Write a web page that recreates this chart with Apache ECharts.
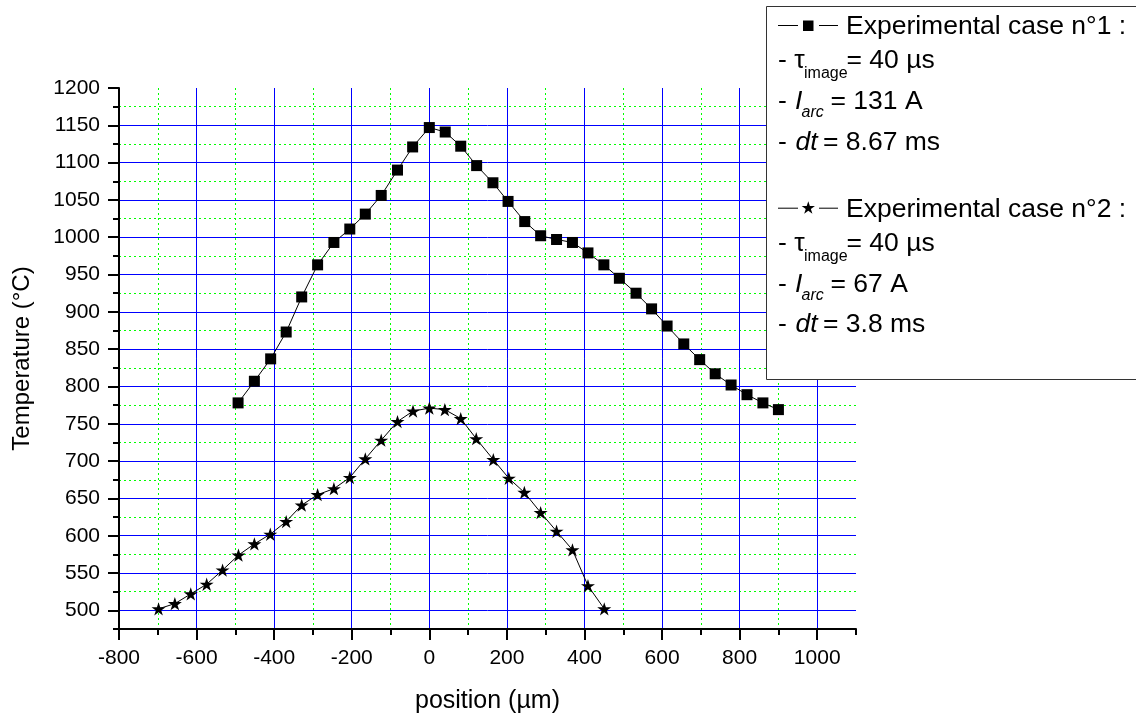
<!DOCTYPE html>
<html><head><meta charset="utf-8">
<script src="https://cdn.jsdelivr.net/npm/echarts@6/dist/echarts.min.js"></script>
<style>html,body{margin:0;padding:0;background:#fff}#c{width:1136px;height:713px}</style>
</head><body><div id="c"></div><script>
// ---- data ----
const positions1 = [-493,-451,-409,-369,-329,-288,-246,-205,-165,-124,-82,-43,0,41,81,122,164,203,246,287,328,369,409,450,490,533,573,613,656,697,737,778,819,860,900];
const temps1 = [778,807,837,873,920,963,993,1011,1031,1056,1090,1121,1147,1141,1122,1096,1073,1048,1021,1002,997,993,979,963,945,925,904,881,857,836,817,802,789,778,769];
const positions2 = [-698,-656,-615,-574,-533,-492,-451,-410,-369,-329,-288,-246,-205,-165,-124,-82,-42,0,40,81,121,165,205,245,287,328,369,409,451];
const temps2 = [502,509,522,535,554,574,589,602,619,641,655,663,678,703,728,753,767,771,769,757,730,702,677,658,631,606,581,533,502];
const yLabelValues = [500,550,600,650,700,750,800,850,900,950,1000,1050,1100,1150,1200];
const seriesNames = ['Experimental case n°1 :', 'Experimental case n°2 :'];

const FONT = '"Liberation Sans", Arial, Helvetica, sans-serif';
const STAR = 'path://M50 0 L61.23 34.55 L97.55 34.55 L68.17 55.9 L79.39 90.45 L50 69.1 L20.61 90.45 L31.83 55.9 L2.45 34.55 L38.77 34.55 Z';

const chart = echarts.init(document.getElementById('c'), null, {renderer: 'canvas'});

const blue = '#0000ff', green = '#00ff00', clear = 'rgba(0,0,0,0)';
const GRID = {left: 119, top: 88, width: 737, height: 541};
const plain = v => String(v);

function txt(x, baseline, text, size, italic) {
  return {
    type: 'text', z: 110, x: x, y: baseline - 0.25 * size,
    style: {
      text: text, font: (italic ? 'italic ' : '') + size + 'px ' + FONT,
      fill: '#000', align: 'left', verticalAlign: 'middle',
      textAlign: 'left', textVerticalAlign: 'middle'
    }
  };
}
function hline(x1, x2, y) {
  return {type: 'line', z: 110, shape: {x1: x1, y1: y, x2: x2, y2: y}, style: {stroke: '#000', lineWidth: 1}};
}
function starPoints(cx, cy, R) {
  const pts = [];
  for (let k = 0; k < 10; k++) {
    const r = k % 2 === 0 ? R : R * 0.382;
    const a = -Math.PI / 2 + k * Math.PI / 5;
    pts.push([cx + r * Math.cos(a), cy + r * Math.sin(a)]);
  }
  return pts;
}
const L = 26.5, S = 16, D = 182.7;
function block(dy, name, icon, current, dt) {
  return [
    hline(778, 798, 25.5 + dy), hline(819, 838, 25.5 + dy),
    icon,
    txt(846, 33.5 + dy, name, L, false),
    txt(778, 67.5 + dy, '- τ', L, false),
    txt(804, 77.5 + dy, 'image', S, false),
    txt(846.5, 67.5 + dy, '= 40 µs', L, false),
    txt(778, 108.5 + dy, '-', L, false),
    txt(795, 108.5 + dy, 'I', L, true),
    txt(801.5, 117 + dy, 'arc', S, true),
    txt(830.5, 108.5 + dy, current, L, false),
    txt(778, 149 + dy, '-', L, false),
    txt(795.5, 149 + dy, 'dt', L, true),
    txt(823, 149 + dy, dt, L, false)
  ];
}
const legendGraphics = [
  {type: 'rect', z: 100, shape: {x: 766.5, y: 6.5, width: 420, height: 373}, style: {fill: '#fff', stroke: '#333', lineWidth: 1}}
].concat(
  block(0, seriesNames[0], {type: 'rect', z: 111, shape: {x: 803, y: 20.5, width: 10.5, height: 10.5}, style: {fill: '#000'}}, '= 131 A', '= 8.67 ms'),
  block(D, seriesNames[1], {type: 'polygon', z: 111, shape: {points: starPoints(808.3, 25.5 + D, 7)}, style: {fill: '#000'}}, '= 67 A', '= 3.8 ms')
);

const hiddenAxisParts = {
  axisLine: {show: false, onZero: false},
  axisLabel: {show: false}
};

const option = {
  backgroundColor: '#fff',
  animation: false,
  grid: Object.assign({containLabel: false, outerBoundsMode: 'none'}, GRID),
  xAxis: [
    {
      type: 'value', position: 'bottom', min: -800, max: 1100, interval: 200,
      name: 'position (µm)', nameLocation: 'middle', nameGap: 60,
      nameTextStyle: {fontSize: 25, fontFamily: FONT, color: '#000'},
      axisLine: {show: true, onZero: false, lineStyle: {color: '#000', width: 2}},
      axisTick: {show: true, length: 11, lineStyle: {color: '#000', width: 2}},
      axisLabel: {fontSize: 21, fontFamily: FONT, color: '#000', margin: 19, formatter: plain},
      splitLine: {show: true, showMinLine: false, showMaxLine: false, lineStyle: {color: blue, width: 1, type: 'solid'}},
      z: 5
    },
    Object.assign({
      type: 'value', position: 'bottom', min: -800, max: 1100, interval: 100,
      axisTick: {show: true, length: 6, lineStyle: {color: '#000', width: 2}},
      splitLine: {show: true, showMinLine: false, showMaxLine: false, lineStyle: {color: green, width: 1, type: [2, 3]}},
      z: 3
    }, hiddenAxisParts)
  ],
  yAxis: [
    // minor grid (every 25) : green dotted + short ticks
    Object.assign({
      type: 'value', position: 'left', min: 475, max: 1200, interval: 25,
      axisTick: {show: true, length: 6, lineStyle: {color: '#000', width: 2}},
      splitLine: {show: true, showMinLine: false, showMaxLine: false, lineStyle: {color: green, width: 1, type: [2, 3]}},
      z: 3
    }, hiddenAxisParts),
    // major grid (every 50, starting at 500) : blue solid
    Object.assign({
      type: 'value', position: 'left', min: 475, max: 1200, interval: 25,
      axisTick: {show: false},
      splitLine: {show: true, showMinLine: false, showMaxLine: false, lineStyle: {color: [blue, clear], width: 1, type: 'solid'}},
      z: 4
    }, hiddenAxisParts),
    // labels, long ticks, axis line, name
    {
      type: 'value', position: 'left', min: 475, max: 1200, interval: 25,
      name: 'Temperature (°C)', nameLocation: 'middle', nameGap: 85,
      nameTextStyle: {fontSize: 24, fontFamily: FONT, color: '#000'},
      axisLine: {show: true, onZero: false, lineStyle: {color: '#000', width: 2}},
      axisTick: {show: true, length: 11, customValues: yLabelValues, lineStyle: {color: '#000', width: 2}},
      axisLabel: {fontSize: 21, fontFamily: FONT, color: '#000', margin: 19, customValues: yLabelValues, formatter: plain},
      splitLine: {show: false},
      z: 5
    }
  ],
  series: [
    {
      name: seriesNames[0], type: 'line', xAxisIndex: 0, yAxisIndex: 2,
      data: positions1.map((x, i) => [x, temps1[i]]),
      symbol: 'rect', symbolSize: 11,
      lineStyle: {color: '#000', width: 1},
      itemStyle: {color: '#000'},
      z: 10
    },
    {
      name: seriesNames[1], type: 'line', xAxisIndex: 0, yAxisIndex: 2,
      data: positions2.map((x, i) => [x, temps2[i]]),
      symbol: STAR, symbolSize: 14, symbolKeepAspect: true,
      lineStyle: {color: '#000', width: 1},
      itemStyle: {color: '#000'},
      z: 10
    }
  ],
  graphic: {elements: legendGraphics}
};
chart.setOption(option);
</script></body></html>
